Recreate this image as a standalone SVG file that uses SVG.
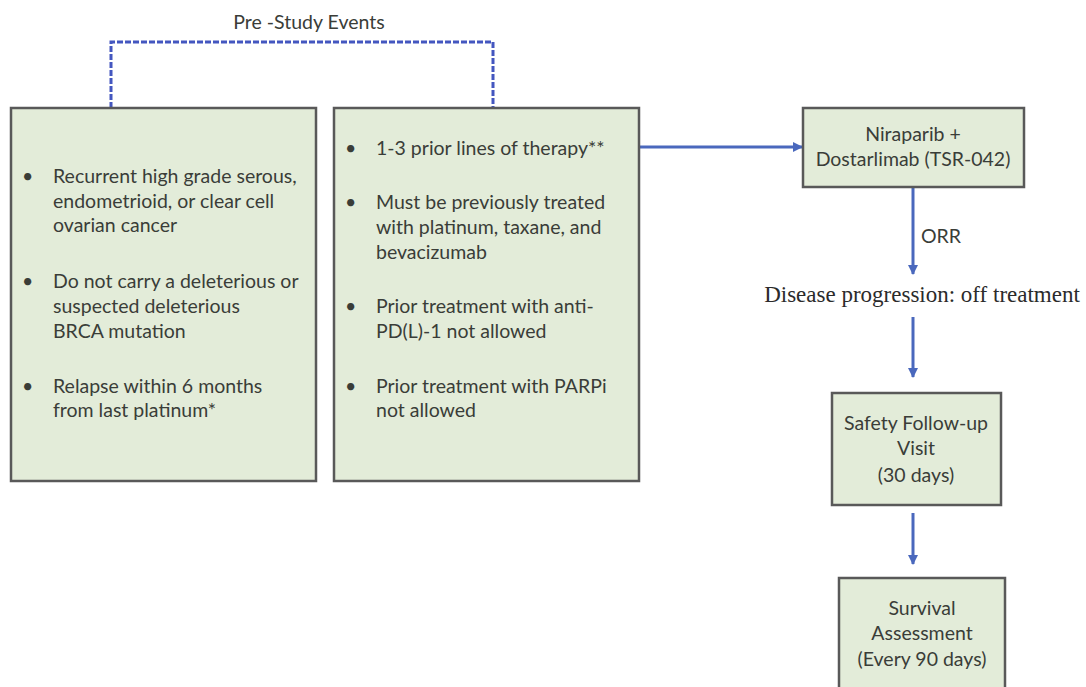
<svg xmlns="http://www.w3.org/2000/svg" width="1086" height="687" viewBox="0 0 1086 687">
<defs>
<style>
.box{fill:#e3ecd9;stroke:#595959;stroke-width:2.5}
.t{font-family:Lato,"Open Sans","Liberation Sans",sans-serif;font-size:19.5px;fill:#3a3d38}
.c{text-anchor:middle}
.conn{stroke:#4a68bd;stroke-width:3;fill:none}
.dash{stroke:#4457c0;stroke-width:3;fill:none;stroke-dasharray:6 2}
.serif{font-family:"Liberation Serif","Times New Roman",serif;font-size:23px;fill:#2b2b2b}
</style>
<marker id="ah" viewBox="0 0 10 10" refX="9" refY="5" markerWidth="3.4" markerHeight="3.4" orient="auto" markerUnits="strokeWidth">
<path d="M0,0 L10,5 L0,10 z" fill="#4a68bd"/>
</marker>
</defs>
<rect width="1086" height="687" fill="#ffffff"/>

<g id="prestudy-label">
<text class="t c" x="309" y="29" font-size="22.5">Pre -Study Events</text>
</g>

<g id="connectors">
<path class="dash" d="M111,108 V42 H493 V108"/>
<path class="conn" d="M639,147 H802" marker-end="url(#ah)"/>
<path class="conn" d="M913,187 V274" marker-end="url(#ah)"/>
<path class="conn" d="M913,317 V377" marker-end="url(#ah)"/>
<path class="conn" d="M913,513 V564" marker-end="url(#ah)"/>
</g>

<g id="box-patients">
<rect class="box" x="11" y="108" width="305" height="373"/>
<g class="t">
<text x="22" y="183">•</text>
<text x="53" y="183">Recurrent high grade serous,</text>
<text x="53" y="208">endometrioid, or clear cell</text>
<text x="53" y="232">ovarian cancer</text>
<text x="22" y="288">•</text>
<text x="53" y="288">Do not carry a deleterious or</text>
<text x="53" y="313">suspected deleterious</text>
<text x="53" y="338">BRCA mutation</text>
<text x="22" y="393">•</text>
<text x="53" y="393">Relapse within 6 months</text>
<text x="53" y="417">from last platinum*</text>
</g>
</g>

<g id="box-prior-therapy">
<rect class="box" x="334" y="108" width="305" height="373"/>
<g class="t">
<text x="345" y="155">•</text>
<text x="376" y="155">1-3 prior lines of therapy**</text>
<text x="345" y="209">•</text>
<text x="376" y="209">Must be previously treated</text>
<text x="376" y="234">with platinum, taxane, and</text>
<text x="376" y="259">bevacizumab</text>
<text x="345" y="313">•</text>
<text x="376" y="313">Prior treatment with anti-</text>
<text x="376" y="338">PD(L)-1 not allowed</text>
<text x="345" y="393">•</text>
<text x="376" y="393">Prior treatment with PARPi</text>
<text x="376" y="417">not allowed</text>
</g>
</g>

<g id="box-treatment">
<rect class="box" x="803" y="108" width="221" height="79"/>
<text class="t c" x="913" y="141">Niraparib +</text>
<text class="t c" x="913" y="166">Dostarlimab (TSR-042)</text>
</g>

<g id="label-orr">
<text class="t" x="921" y="243" font-size="21">ORR</text>
</g>

<g id="label-progression">
<text class="serif c" x="922" y="302">Disease progression: off treatment</text>
</g>

<g id="box-safety">
<rect class="box" x="832" y="393" width="169" height="112"/>
<text class="t c" x="916" y="430">Safety Follow-up</text>
<text class="t c" x="916" y="455">Visit</text>
<text class="t c" x="916" y="482">(30 days)</text>
</g>

<g id="box-survival">
<rect class="box" x="839" y="578" width="166" height="115"/>
<text class="t c" x="922" y="615">Survival</text>
<text class="t c" x="922" y="640">Assessment</text>
<text class="t c" x="922" y="666">(Every 90 days)</text>
</g>
</svg>
